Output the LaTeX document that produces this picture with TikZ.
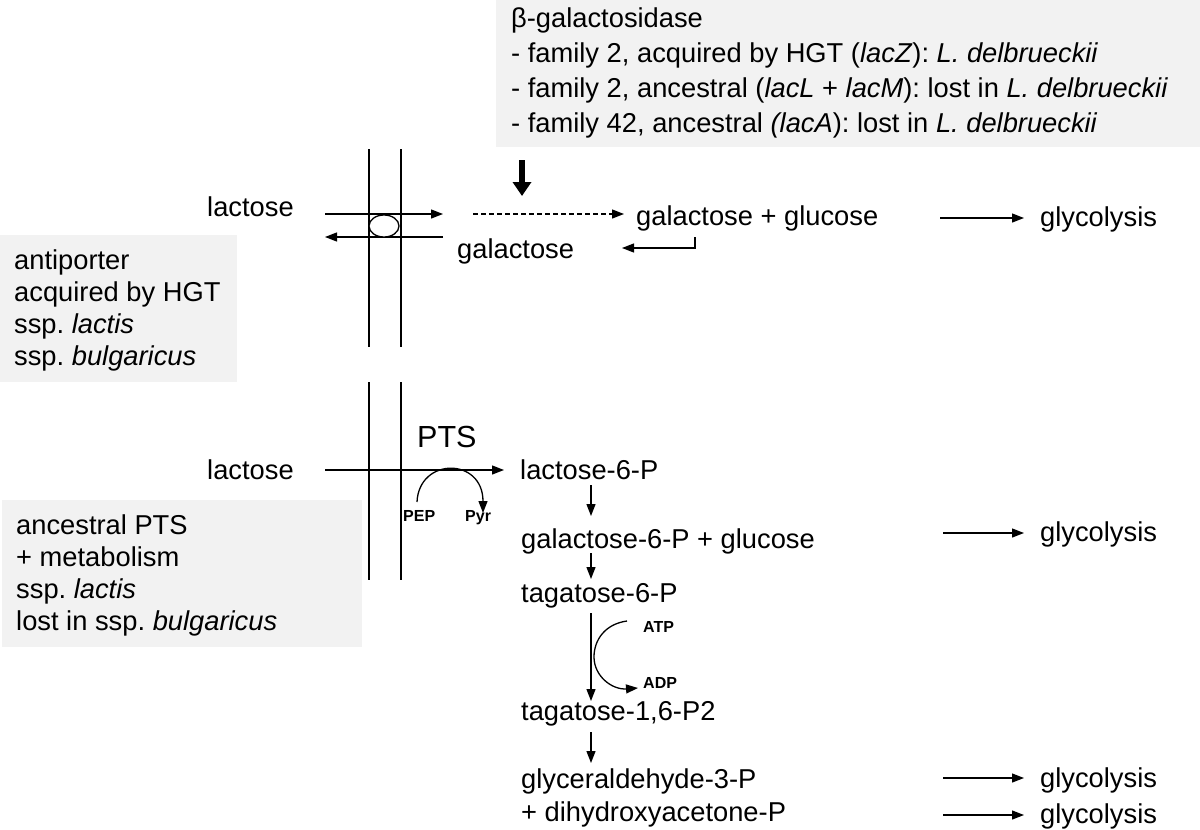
\documentclass[tikz,border=0pt]{standalone}
\usepackage{fontspec}
\setmainfont{Liberation Sans}
\usetikzlibrary{arrows.meta}
\definecolor{boxgray}{HTML}{F2F2F2}
\frenchspacing
\tikzset{
  lbl/.style={anchor=base west,inner sep=0pt,font=\fontsize{27.3}{32}\selectfont},
  biglbl/.style={anchor=base west,inner sep=0pt,font=\fontsize{30.5}{36}\selectfont},
  sm/.style={anchor=base west,inner sep=0pt,font=\fontsize{16}{18}\selectfont\bfseries},
  conn/.style={line width=1.3pt,-{Triangle[length=12pt,width=9pt]}},
  memb/.style={line width=1.3pt},
  infobox/.style={fill=boxgray,draw=none},
}
\begin{document}
\begin{tikzpicture}[x=1pt,y=-1pt]
\useasboundingbox (0,0) rectangle (1200,830);
% gray boxes
\fill[infobox] (496,0) rectangle (1200,147);
\fill[infobox] (0,235) rectangle (237,382);
\fill[infobox] (2,500) rectangle (362,647);
% top box text
\node[lbl] (b1) at (511,27) {β-galactosidase};
\node[lbl] (b2) at (511,62) {- family 2, acquired by HGT (\textit{lacZ}): \textit{L. delbrueckii}};
\node[lbl] (b3) at (511,97) {- family 2, ancestral (\textit{lacL} + \textit{lacM}): lost in \textit{L. delbrueckii}};
\node[lbl] (b4) at (511,132) {- family 42, ancestral \textit{(lacA}): lost in \textit{L. delbrueckii}};
% left box 1
\node[lbl] (a1) at (14,269) {antiporter};
\node[lbl] (a2) at (14,301) {acquired by HGT};
\node[lbl] (a3) at (14,333) {ssp. \textit{lactis}};
\node[lbl] (a4) at (14,365) {ssp. \textit{bulgaricus}};
% left box 2
\node[lbl] (c1) at (16,534) {ancestral PTS};
\node[lbl] (c2) at (16,566) {+ metabolism};
\node[lbl] (c3) at (16,598) {ssp. \textit{lactis}};
\node[lbl] (c4) at (16,630) {lost in ssp. \textit{bulgaricus}};
% membranes
\coordinate (m1t) at (369,149); \coordinate (m1b) at (369,347);
\coordinate (m2t) at (401,149); \coordinate (m2b) at (401,347);
\coordinate (m3t) at (369,382); \coordinate (m3b) at (369,580);
\coordinate (m4t) at (401,382); \coordinate (m4b) at (401,580);
\draw[memb] (m1t) -- (m1b); \draw[memb] (m2t) -- (m2b);
\draw[memb] (m3t) -- (m3b); \draw[memb] (m4t) -- (m4b);
% top pathway
\node[lbl] (lac1) at (207,216) {lactose};
\node[lbl] (gal1) at (457,258) {galactose};
\node[lbl] (galglc) at (636,225) {galactose + glucose};
\node[lbl] (gly1) at (1040,226) {glycolysis};
\coordinate (t1s) at (325,214); \coordinate (t1e) at (443,214);
\coordinate (t2s) at (443,237); \coordinate (t2e) at (325,237);
\draw[conn] (t1s) -- (t1e);
\draw[conn] (t2s) -- (t2e);
\draw[line width=1.3pt,fill=white] (384,226) ellipse [x radius=15, y radius=11];
\coordinate (ds) at (473,214); \coordinate (de) at (624,214);
\draw[conn,dash pattern=on 5pt off 3pt] (ds) -- (de);
\coordinate (bs) at (522,160); \coordinate (be) at (522,196);
\draw[line width=6pt,-{Triangle[length=14pt,width=18pt]}] (bs) -- (be);
\coordinate (h1) at (695,237); \coordinate (h2) at (695,248); \coordinate (h3) at (622,248);
\draw[conn] (h1) -- (h2) -- (h3);
\coordinate (g1s) at (940,218); \coordinate (g1e) at (1024,218);
\draw[conn] (g1s) -- (g1e);
% bottom pathway
\node[biglbl] (pts) at (417,447) {PTS};
\node[lbl] (lac2) at (207,479) {lactose};
\node[lbl] (lac6p) at (520,479) {lactose-6-P};
\node[lbl] (gal6p) at (521,548) {galactose-6-P + glucose};
\node[lbl] (tag6p) at (521,602) {tagatose-6-P};
\node[lbl] (tag16) at (521,720) {tagatose-1,6-P2};
\node[lbl] (gap) at (521,788) {glyceraldehyde-3-P};
\node[lbl] (dhap) at (521,821) {+ dihydroxyacetone-P};
\node[lbl] (gly2) at (1040,541) {glycolysis};
\node[lbl] (gly3) at (1040,787) {glycolysis};
\node[lbl] (gly4) at (1040,823) {glycolysis};
\node[sm] (pep) at (403,521) {PEP};
\node[sm] (pyr) at (465,521) {Pyr};
\node[sm] (atp) at (643,632) {ATP};
\node[sm] (adp) at (643,688) {ADP};
\coordinate (ps) at (325,470); \coordinate (pe) at (504,470);
\draw[conn] (ps) -- (pe);
\coordinate (pc1) at (417,502); \coordinate (pc2) at (483,513);
\draw[conn] (pc1) .. controls (419,457) and (483,457) .. (pc2);
\coordinate (v1s) at (591,485); \coordinate (v1e) at (591,516);
\coordinate (v2s) at (591,553); \coordinate (v2e) at (591,579);
\coordinate (v3s) at (591,613); \coordinate (v3e) at (591,701);
\coordinate (v4s) at (591,732); \coordinate (v4e) at (591,763);
\draw[conn] (v1s) -- (v1e);
\draw[conn] (v2s) -- (v2e);
\draw[conn] (v3s) -- (v3e);
\draw[conn] (v4s) -- (v4e);
\coordinate (ac1) at (627,621); \coordinate (ac2) at (594,657); \coordinate (ac3) at (638,688);
\draw[conn] (ac1) .. controls (605,624) and (594,640) .. (ac2) .. controls (594,676) and (612,690) .. (ac3);
\coordinate (g2s) at (943,533); \coordinate (g2e) at (1024,533);
\coordinate (g3s) at (943,778); \coordinate (g3e) at (1024,778);
\coordinate (g4s) at (943,815); \coordinate (g4e) at (1024,815);
\draw[conn] (g2s) -- (g2e);
\draw[conn] (g3s) -- (g3e);
\draw[conn] (g4s) -- (g4e);
\end{tikzpicture}
\end{document}
